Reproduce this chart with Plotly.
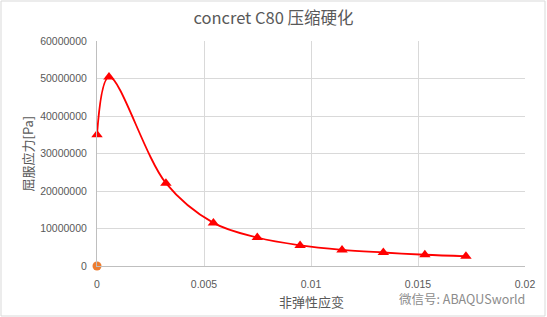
import plotly.graph_objects as go

# Data
strain = [0.0, 0.00056, 0.00322, 0.00544, 0.00749, 0.00949, 0.01145, 0.01338, 0.01532, 0.01724]
stress = [35000000, 50400000, 22100000, 11500000, 7600000, 5500000, 4300000, 3600000, 3000000, 2600000]
origin_x = [0.0]
origin_y = [0]

x_ticks = [0, 0.005, 0.01, 0.015, 0.02]
x_tick_labels = ["0", "0.005", "0.01", "0.015", "0.02"]
y_ticks = [0, 10000000, 20000000, 30000000, 40000000, 50000000, 60000000]
y_tick_labels = [str(v) for v in y_ticks]

W, H = 547, 317
ML, MR, MT, MB = 97, 22, 41, 51
pw, ph = W - ML - MR, H - MT - MB

fig = go.Figure()
fig.add_trace(go.Scatter(
    x=strain, y=stress, mode="lines+markers",
    line=dict(color="#FF0000", width=1.8, shape="spline", smoothing=1.0),
    marker=dict(symbol="triangle-up", size=10, color="#FF0000"),
    showlegend=False, cliponaxis=False))
fig.add_trace(go.Scatter(
    x=origin_x, y=origin_y, mode="markers",
    marker=dict(symbol="circle", size=9, color="#ED7D31"),
    showlegend=False, cliponaxis=False))

tick_font = dict(family="Liberation Sans, Arial, sans-serif", size=10.5, color="#595959")
cjk = "Noto Sans CJK SC, sans-serif"

fig.update_layout(
    width=W, height=H,
    margin=dict(l=ML, r=MR, t=MT, b=MB),
    paper_bgcolor="white", plot_bgcolor="white",
    title=dict(text="concret C80 压缩硬化", x=0.5, xref="container", xanchor="center",
               y=1 - 18 / H, yanchor="middle",
               font=dict(family=cjk, size=16.5, color="#595959")),
    xaxis=dict(range=[0, 0.02], tickvals=x_ticks, ticktext=x_tick_labels,
               showgrid=True, gridcolor="#D9D9D9", gridwidth=1,
               showline=True, linecolor="#BFBFBF", linewidth=1, zeroline=False,
               ticks="", ticklabelstandoff=8, tickfont=tick_font, fixedrange=True),
    yaxis=dict(range=[0, 60000000], tickvals=y_ticks, ticktext=y_tick_labels,
               showgrid=True, gridcolor="#D9D9D9", gridwidth=1,
               showline=True, linecolor="#BFBFBF", linewidth=1, zeroline=False,
               ticks="", ticklabelstandoff=7, tickfont=tick_font, fixedrange=True),
    annotations=[
        dict(text="屈服应力[Pa]", xref="paper", yref="paper",
             x=(27 - ML) / pw, y=0.5, textangle=-90, showarrow=False,
             xanchor="center", yanchor="middle",
             font=dict(family=cjk, size=13, color="#595959")),
        dict(text="非弹性应变", xref="paper", yref="paper",
             x=0.5, y=-(301 - (MT + ph)) / ph, showarrow=False,
             xanchor="center", yanchor="middle",
             font=dict(family=cjk, size=13, color="#595959")),
        dict(text="微信号: ABAQUSworld", xref="paper", yref="paper",
             x=(397 - ML) / pw, y=-(298 - (MT + ph)) / ph, showarrow=False,
             xanchor="left", yanchor="middle",
             font=dict(family=cjk, size=12.5, color="#8C8C8C")),
    ],
    shapes=[
        dict(type="rect", xref="paper", yref="paper",
             x0=-(ML - 1) / pw, x1=1 + (MR - 2) / pw,
             y0=-(MB - 1) / ph, y1=1 + (MT - 1) / ph,
             line=dict(color="#D9D9D9", width=1), layer="below"),
    ],
)

fig.write_html("out.html")
